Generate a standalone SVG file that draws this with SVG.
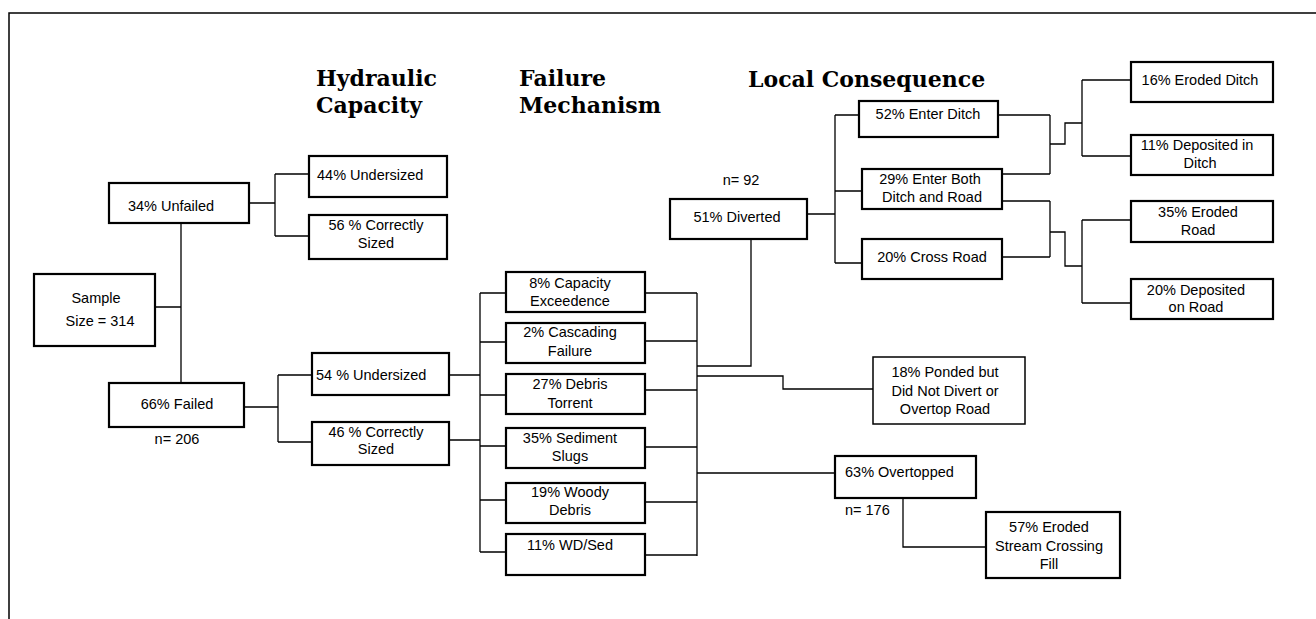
<svg xmlns="http://www.w3.org/2000/svg" width="1316" height="619" viewBox="0 0 1316 619">
<style>
.bg{fill:#fff}
.box{fill:#fff;stroke:#000;stroke-width:2.2}
.thin{stroke-width:1.5}
.c{fill:none;stroke:#000;stroke-width:1.3}
.frame{fill:none;stroke:#000;stroke-width:1.5}
.t{font-family:"Liberation Sans",Arial,sans-serif;font-size:14.5px;fill:#000}
.m{text-anchor:middle}
.h{font-family:"DejaVu Serif","Liberation Serif",serif;font-weight:bold;font-size:22px;fill:#000}
</style>
<rect class="bg" x="0" y="0" width="1316" height="619"/>
<path class="frame" d="M9,619 V13 H1316"/>
<g id="headings">
<text class="h" x="316" y="86">Hydraulic</text>
<text class="h" x="316" y="113">Capacity</text>
<text class="h" x="519" y="86">Failure</text>
<text class="h" x="519" y="113">Mechanism</text>
<text class="h" x="748" y="87">Local Consequence</text>
</g>
<g id="connectors">
<path class="c" d="M155,307 H181 M181,223 V383 M249,203 H275 M275,174 V236 M275,174 H309 M275,236 H309"/>
<path class="c" d="M244,407 H278 M278,375 V442 M278,375 H312 M278,442 H312"/>
<path class="c" d="M449,375 H480 M449,440 H480 M480,293 V552 M480,293 H506 M480,342 H506 M480,395 H506 M480,446 H506 M480,500 H506 M480,552 H506"/>
<path class="c" d="M645,293 H697 M645,341 H697 M645,390 H697 M645,447 H697 M645,502 H697 M645,555 H697 M697,293 V556"/>
<path class="c" d="M697,366 H751 V239 M697,376 H783 V389 H873 M697,473 H835"/>
<path class="c" d="M903,498 V547 H986"/>
<path class="c" d="M807,214 H835 M835,115 V263 M835,115 H859 M835,191 H862 M835,263 H862"/>
<path class="c" d="M998,115 H1050 M1002,174 H1050 M1050,115 V174 M1050,144 H1065 V123 H1082 M1082,80 V156 M1082,80 H1131 M1082,156 H1131"/>
<path class="c" d="M1002,201 H1050 M1002,257 H1050 M1050,201 V257 M1050,232 H1065 V266 H1082 M1082,220 V303 M1082,220 H1131 M1082,303 H1131"/>
</g>
<g id="sample">
<rect class="box" x="34" y="274" width="121" height="72"/>
<text class="t m" x="96" y="303">Sample</text>
<text class="t m" x="100" y="326">Size = 314</text>
</g>
<g id="unfailed">
<rect class="box" x="109" y="183" width="140" height="40"/>
<text class="t m" x="171" y="211">34% Unfailed</text>
</g>
<g id="failed">
<rect class="box" x="109" y="383" width="135" height="44"/>
<text class="t m" x="177" y="409">66% Failed</text>
<text class="t m" x="177" y="444">n= 206</text>
</g>
<g id="unf-undersized">
<rect class="box" x="309" y="156" width="138" height="41"/>
<text class="t" x="317" y="180">44% Undersized</text>
</g>
<g id="unf-correct">
<rect class="box" x="309" y="215" width="138" height="44"/>
<text class="t m" x="376" y="230">56 % Correctly</text>
<text class="t m" x="376" y="248">Sized</text>
</g>
<g id="f-undersized">
<rect class="box" x="312" y="353" width="137" height="42"/>
<text class="t" x="316" y="380">54 % Undersized</text>
</g>
<g id="f-correct">
<rect class="box" x="312" y="422" width="137" height="43"/>
<text class="t m" x="376" y="437">46 % Correctly</text>
<text class="t m" x="376" y="454">Sized</text>
</g>
<g id="capacity">
<rect class="box" x="506" y="272" width="139" height="40"/>
<text class="t m" x="570" y="288">8% Capacity</text>
<text class="t m" x="570" y="306">Exceedence</text>
</g>
<g id="cascading">
<rect class="box" x="506" y="323" width="139" height="40"/>
<text class="t m" x="570" y="337">2% Cascading</text>
<text class="t m" x="570" y="356">Failure</text>
</g>
<g id="debris-torrent">
<rect class="box" x="506" y="374" width="139" height="40"/>
<text class="t m" x="570" y="389">27% Debris</text>
<text class="t m" x="570" y="408">Torrent</text>
</g>
<g id="sediment">
<rect class="box" x="506" y="428" width="139" height="40"/>
<text class="t m" x="570" y="443">35% Sediment</text>
<text class="t m" x="570" y="461">Slugs</text>
</g>
<g id="woody">
<rect class="box" x="506" y="483" width="139" height="40"/>
<text class="t m" x="570" y="497">19% Woody</text>
<text class="t m" x="570" y="515">Debris</text>
</g>
<g id="wdsed">
<rect class="box" x="506" y="534" width="139" height="41"/>
<text class="t m" x="570" y="550">11% WD/Sed</text>
</g>
<g id="diverted">
<rect class="box" x="670" y="199" width="137" height="40"/>
<text class="t m" x="737" y="222">51% Diverted</text>
<text class="t m" x="741" y="185">n= 92</text>
</g>
<g id="enter-ditch">
<rect class="box" x="859" y="101" width="139" height="36"/>
<text class="t m" x="928" y="119">52% Enter Ditch</text>
</g>
<g id="enter-both">
<rect class="box" x="862" y="169" width="140" height="40"/>
<text class="t m" x="930" y="184">29% Enter Both</text>
<text class="t m" x="932" y="202">Ditch and Road</text>
</g>
<g id="cross-road">
<rect class="box" x="862" y="239" width="140" height="40"/>
<text class="t m" x="932" y="262">20% Cross Road</text>
</g>
<g id="eroded-ditch">
<rect class="box" x="1131" y="62" width="142" height="40"/>
<text class="t m" x="1200" y="85">16% Eroded Ditch</text>
</g>
<g id="deposited-ditch">
<rect class="box" x="1131" y="135" width="142" height="40"/>
<text class="t m" x="1197" y="150">11% Deposited in</text>
<text class="t m" x="1200" y="168">Ditch</text>
</g>
<g id="eroded-road">
<rect class="box" x="1131" y="201" width="142" height="41"/>
<text class="t m" x="1198" y="217">35% Eroded</text>
<text class="t m" x="1198" y="235">Road</text>
</g>
<g id="deposited-road">
<rect class="box" x="1131" y="279" width="142" height="40"/>
<text class="t m" x="1196" y="295">20% Deposited</text>
<text class="t m" x="1196" y="312">on Road</text>
</g>
<g id="ponded">
<rect class="box thin" x="873" y="357" width="152" height="67"/>
<text class="t m" x="945" y="377">18% Ponded but</text>
<text class="t m" x="945" y="396">Did Not Divert or</text>
<text class="t m" x="945" y="414">Overtop Road</text>
</g>
<g id="overtopped">
<rect class="box" x="835" y="456" width="141" height="42"/>
<text class="t" x="845" y="477">63% Overtopped</text>
<text class="t" x="845" y="515">n= 176</text>
</g>
<g id="eroded-fill">
<rect class="box" x="986" y="512" width="134" height="66"/>
<text class="t m" x="1049" y="532">57% Eroded</text>
<text class="t m" x="1049" y="551">Stream Crossing</text>
<text class="t m" x="1049" y="569">Fill</text>
</g>
</svg>
